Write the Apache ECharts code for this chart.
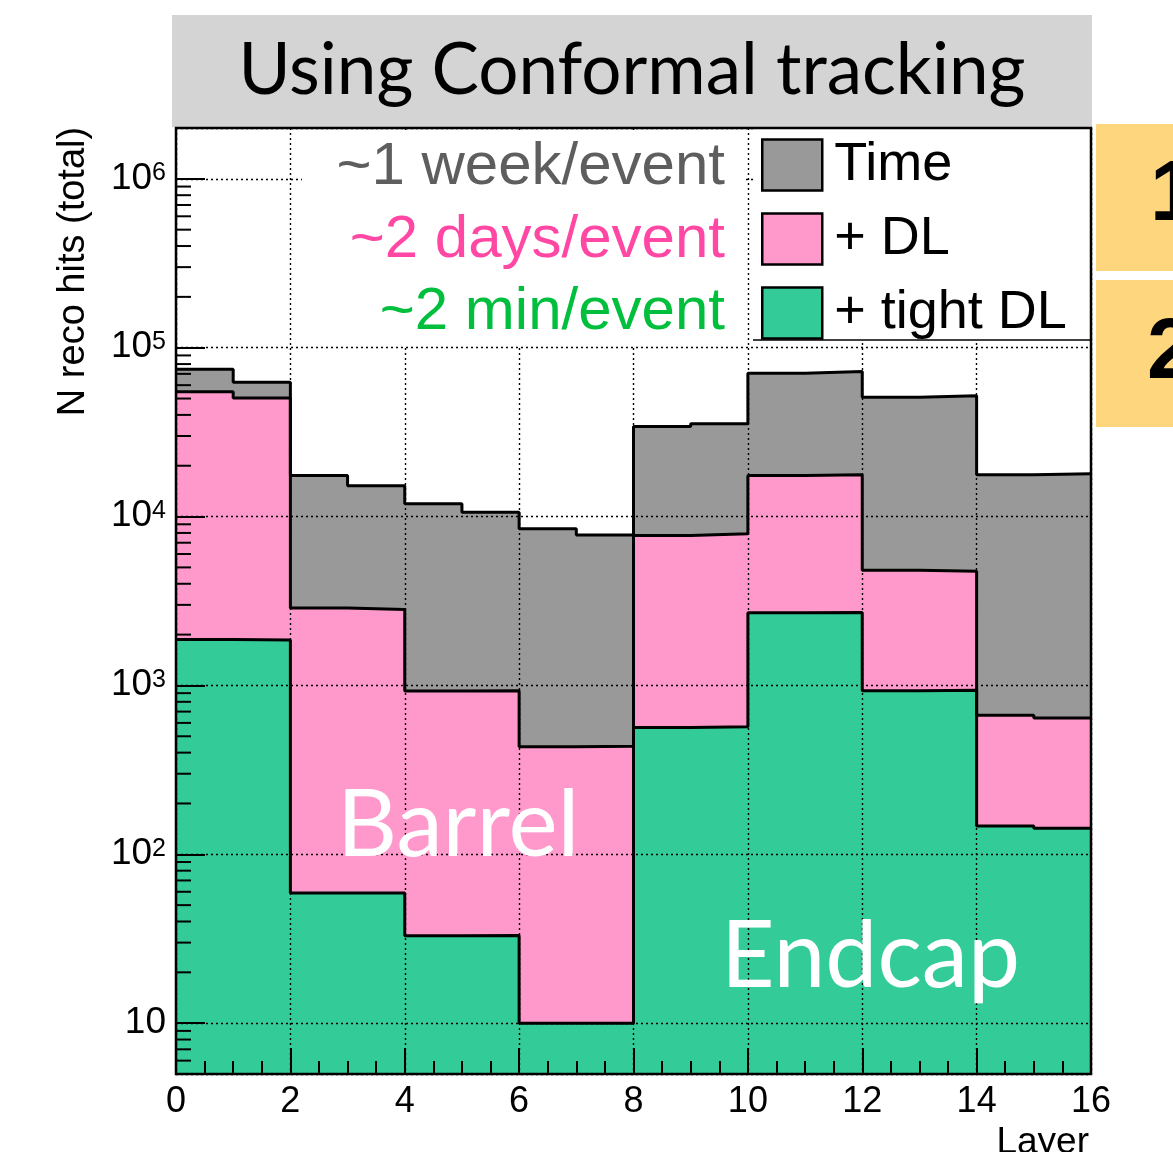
<!DOCTYPE html>
<html><head><meta charset="utf-8">
<script src="https://cdn.jsdelivr.net/npm/echarts@6/dist/echarts.min.js"></script>
<style>html,body{margin:0;padding:0;background:#fff}#c{width:1173px;height:1152px}</style>
</head><body><div id="c"></div>
<script>
// ---- data ----
const binEdges = [0,1,2,3,4,5,6,7,8,9,10,11,12,13,14,15,16];
const timeHits  = [74500, 62400, 17500, 15200, 11900, 10600, 8460, 7790, 34100, 35500, 70500, 72400, 50800, 52000, 17700, 17900];
const dlHits    = [54900, 50400, 2870, 2815, 926, 930, 433, 437, 7730, 7900, 17500, 17700, 4810, 4740, 667, 641];
const tightHits = [1870, 1855, 59, 59, 32.9, 33, 10, 10, 564, 570, 2690, 2700, 930, 935, 147, 142.6];
const seriesNames = ['Time', '+ DL', '+ tight DL'];
const xTickLabels = ['0','2','4','6','8','10','12','14','16'];
const yMinorMultipliers = [2,3,4,5,6,7,8,9];
const yDecades = [1,10,100,1000,10000,100000,1000000];
const timeNotes = ['~1 week/event', '~2 days/event', '~2 min/event'];

const FILL = ['#999999', '#ff99cc', '#33cc99'];
const NOTE_COLORS = ['#5e5e5e', '#ff47a3', '#00bf3c'];

const yMin = 5, yMax = 2e6;
const yMinorTicks = [];
yDecades.forEach(d => yMinorMultipliers.forEach(m => { const v = m * d; if (v > yMin && v < yMax) yMinorTicks.push(v); }));

function histPoints(vals) {
  const pts = vals.map((v, i) => [binEdges[i], v]);
  pts.push([binEdges[vals.length], vals[vals.length - 1]]);
  return pts;
}

const G = {left: 176, top: 128, width: 915, height: 946};
const HELV = '"Liberation Sans", Arial, sans-serif';
const LATO = 'Lato, "Open Sans", sans-serif';

function histSeries(name, vals, fill) {
  return {
    type: 'line', name: name, step: 'end', data: histPoints(vals),
    symbol: 'none', z: 2,
    lineStyle: {color: '#000', width: 3},
    itemStyle: {color: fill},
    areaStyle: {color: fill, opacity: 1, origin: 'start'},
    emphasis: {disabled: true}, silent: true
  };
}

const chart = echarts.init(document.getElementById('c'), null, {renderer: 'canvas'});
chart.setOption({
  animation: false,
  backgroundColor: '#fff',
  grid: {left: G.left, top: G.top, width: G.width, height: G.height, containLabel: false, outerBoundsMode: 'none'},
  xAxis: {
    type: 'value', min: 0, max: 16, interval: 2, z: 10,
    axisLine: {show: false},
    axisTick: {show: true, inside: true, length: 26, lineStyle: {color: '#000', width: 2}},
    minorTick: {show: true, splitNumber: 4, length: 13, lineStyle: {color: '#000', width: 2}},
    axisLabel: {margin: 10, fontSize: 36, fontFamily: HELV, color: '#000',
      formatter: v => xTickLabels[Math.round(v / 2)] ?? ''},
    splitLine: {show: true, lineStyle: {color: '#000', width: 1.4, type: [2, 3]}}
  },
  yAxis: {
    type: 'log', logBase: 10, min: yMin, max: yMax, z: 10,
    axisLine: {show: false},
    axisTick: {show: true, inside: true, length: 29, lineStyle: {color: '#000', width: 2}},
    axisLabel: {
      margin: 10, showMinLabel: false, showMaxLabel: false, color: '#000',
      formatter: v => {
        const e = Math.round(Math.log10(v));
        if (Math.abs(v - Math.pow(10, e)) / v > 1e-6) return '';
        if (e === 1) return '{p|10}';
        return '{b|10}{s|' + e + '}';
      },
      rich: {
        p: {fontSize: 37, fontFamily: HELV, color: '#000', lineHeight: 36},
        b: {fontSize: 37, fontFamily: HELV, color: '#000', lineHeight: 36, verticalAlign: 'bottom', padding: [8, 0, 0, 0]},
        s: {fontSize: 25, fontFamily: HELV, color: '#000', lineHeight: 24, verticalAlign: 'top'}
      }
    },
    splitLine: {show: true, lineStyle: {color: '#000', width: 1.4, type: [2, 3]}}
  },
  legend: {
    orient: 'vertical', left: 761, top: 138, z: 70, padding: 0,
    itemWidth: 60, itemHeight: 51, itemGap: 20, selectedMode: false, icon: 'rect',
    textStyle: {fontSize: 54, fontFamily: HELV, color: '#000', lineHeight: 40, padding: [0, 0, 10, 7]},
    data: seriesNames.map((n, i) => ({name: n, icon: 'rect', itemStyle: {color: FILL[i], borderColor: '#000', borderWidth: 2.5}}))
  },
  series: [
    histSeries(seriesNames[0], timeHits, FILL[0]),
    histSeries(seriesNames[1], dlHits, FILL[1]),
    histSeries(seriesNames[2], tightHits, FILL[2]),
    {
      type: 'custom', name: 'minorTicks', z: 20, silent: true, clip: false,
      data: yMinorTicks.map(v => [0, v]),
      encode: {x: 0, y: 1},
      renderItem: (params, api) => {
        const p = api.coord([api.value(0), api.value(1)]);
        return {type: 'line', shape: {x1: p[0], y1: p[1], x2: p[0] + 15, y2: p[1]}, style: {stroke: '#000', lineWidth: 2}};
      }
    }
  ],
  graphic: [
    // title band
    {type: 'rect', z: 50, shape: {x: 172, y: 15, width: 920, height: 112}, style: {fill: '#d4d4d4'}},
    {type: 'text', z: 60, x: 632, y: 71, style: {text: 'Using Conformal tracking', font: '71px ' + LATO, fill: '#000', textAlign: 'center', textVerticalAlign: 'middle'}},
    // white note box
    {type: 'rect', z: 50, shape: {x: 302, y: 132, width: 442, height: 214}, style: {fill: '#fff'}},
    {type: 'text', z: 60, x: 725, y: 167.5, style: {text: timeNotes[0], font: '60px ' + HELV, fill: NOTE_COLORS[0], textAlign: 'right', textVerticalAlign: 'middle'}},
    {type: 'text', z: 60, x: 725, y: 240, style: {text: timeNotes[1], font: '60px ' + HELV, fill: NOTE_COLORS[1], textAlign: 'right', textVerticalAlign: 'middle'}},
    {type: 'text', z: 60, x: 725, y: 312.5, style: {text: timeNotes[2], font: '60px ' + HELV, fill: NOTE_COLORS[2], textAlign: 'right', textVerticalAlign: 'middle'}},
    // legend box
    {type: 'rect', z: 50, shape: {x: 753, y: 129, width: 337, height: 211}, style: {fill: '#fff'}},
    {type: 'line', z: 51, shape: {x1: 753, y1: 340, x2: 1091, y2: 340}, style: {stroke: '#000', lineWidth: 1.5}},
    // region labels
    {type: 'text', z: 60, x: 337, y: 826, style: {text: 'Barrel', font: '93px ' + LATO, fill: '#fff', textAlign: 'left', textVerticalAlign: 'middle'}},
    {type: 'text', z: 60, x: 721, y: 957, style: {text: 'Endcap', font: '93px ' + LATO, fill: '#fff', textAlign: 'left', textVerticalAlign: 'middle'}},
    // frame
    {type: 'rect', z: 100, shape: {x: G.left, y: G.top, width: G.width, height: G.height}, style: {fill: 'none', stroke: '#000', lineWidth: 2.5}},
    // axis titles
    {type: 'text', z: 60, x: 74, y: 271.5, rotation: Math.PI / 2, style: {text: 'N reco hits (total)', font: '38px ' + HELV, fill: '#000', textAlign: 'center', textVerticalAlign: 'middle'}},
    {type: 'text', z: 60, x: 1089, y: 1142.5, style: {text: 'Layer', font: '37px ' + HELV, fill: '#000', textAlign: 'right', textVerticalAlign: 'middle'}},
    // neighbouring slide boxes
    {type: 'rect', z: 50, shape: {x: 1096, y: 124, width: 80, height: 147}, style: {fill: '#fed67e'}},
    {type: 'rect', z: 50, shape: {x: 1096, y: 280, width: 80, height: 147}, style: {fill: '#fed67e'}},
    {type: 'text', z: 60, x: 1150, y: 197, style: {text: '1', font: 'bold 85px ' + HELV, fill: '#000', textAlign: 'left', textVerticalAlign: 'middle'}},
    {type: 'text', z: 60, x: 1147, y: 355, style: {text: '2', font: 'bold 85px ' + HELV, fill: '#000', textAlign: 'left', textVerticalAlign: 'middle'}}
  ]
});
</script>
</body></html>
